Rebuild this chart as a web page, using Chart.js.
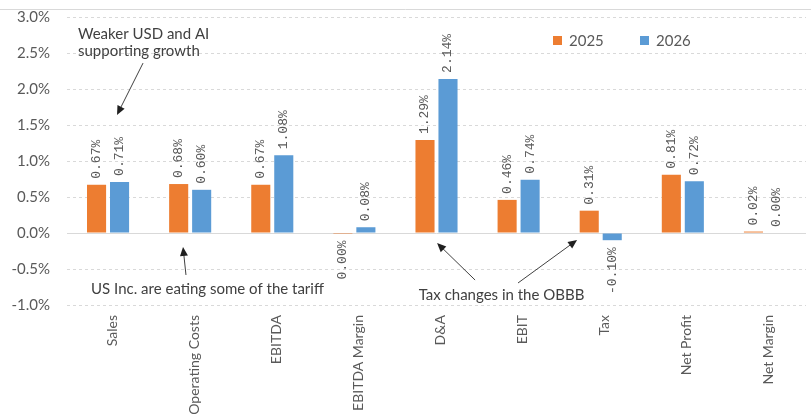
<!DOCTYPE html>
<html>
<head>
<meta charset="utf-8">
<script src="https://cdn.jsdelivr.net/npm/chart.js@4.4.1/dist/chart.umd.min.js"></script>
<style>
  html, body { margin: 0; padding: 0; background: #fff; overflow: hidden; }
  #wrap { position: relative; width: 811px; height: 414px; }
</style>
</head>
<body>
<div id="wrap"><canvas id="grafico"></canvas></div>
<script>
// datos
const categorias = ['Sales', 'Operating Costs', 'EBITDA', 'EBITDA Margin', 'D&A', 'EBIT', 'Tax', 'Net Profit', 'Net Margin'];
const serie2025 = [0.67, 0.68, 0.67, -0.001, 1.29, 0.46, 0.31, 0.81, 0.02]; // EBITDA Margin: 0.00% con etiqueta debajo
const serie2026 = [0.71, 0.60, 1.08, 0.08, 2.14, 0.74, -0.10, 0.72, 0.00];
const ticksY = [-1.0, -0.5, 0, 0.5, 1.0, 1.5, 2.0, 2.5, 3.0];
const nombresSeries = ['2025', '2026'];
const colores = ['#ED7D31', '#5B9BD5'];

// notas y flechas en unidades de escala: [índice de categoría, valor %]
const notas = [
  { lineas: ['Weaker USD and AI', 'supporting growth'], pos: [-0.366, 2.76], align: 'left' },
  { lineas: ['US Inc. are eating some of the tariff'], pos: [1.211, -0.778], align: 'center' },
  { lineas: ['Tax changes in the OBBB'], pos: [4.792, -0.861], align: 'center' }
];
const flechas = [
  { desde: [0.426, 2.36], hasta: [0.109, 1.64] },
  { desde: [0.949, -0.583], hasta: [0.913, -0.194] },
  { desde: [4.470, -0.653], hasta: [4.007, -0.139] },
  { desde: [4.993, -0.694], hasta: [5.712, -0.097] }
];

const pct = (v) => {
  const r = Math.round(v * 100) / 100;
  return (r === 0 ? 0 : r).toFixed(2) + '%';
};

const dibujarFlecha = (ctx, x1, y1, x2, y2) => {
  const ang = Math.atan2(y2 - y1, x2 - x1);
  const largo = 9, ancho = 4;
  ctx.beginPath();
  ctx.moveTo(x1, y1);
  ctx.lineTo(x2 - Math.cos(ang) * largo * 0.8, y2 - Math.sin(ang) * largo * 0.8);
  ctx.stroke();
  ctx.beginPath();
  ctx.moveTo(x2, y2);
  ctx.lineTo(x2 - Math.cos(ang) * largo - Math.sin(ang) * ancho, y2 - Math.sin(ang) * largo + Math.cos(ang) * ancho);
  ctx.lineTo(x2 - Math.cos(ang) * largo + Math.sin(ang) * ancho, y2 - Math.sin(ang) * largo - Math.cos(ang) * ancho);
  ctx.closePath();
  ctx.fill();
};

const extras = {
  id: 'extras',
  beforeDatasetsDraw(chart) {
    const { ctx, chartArea, scales } = chart;
    const y0 = Math.round(scales.y.getPixelForValue(0)) + 0.5;
    ctx.save();
    ctx.strokeStyle = '#d9d9d9';
    ctx.lineWidth = 1;
    ctx.beginPath();
    ctx.moveTo(chartArea.left, y0);
    ctx.lineTo(chartArea.right, y0);
    ctx.stroke();
    ctx.restore();
  },
  afterDatasetsDraw(chart) {
    const { ctx } = chart;
    ctx.save();
    ctx.font = '13px "Liberation Mono", monospace';
    ctx.fillStyle = '#595959';
    ctx.textBaseline = 'middle';
    chart.data.datasets.forEach((ds, i) => {
      const meta = chart.getDatasetMeta(i);
      meta.data.forEach((el, j) => {
        const v = ds.data[j];
        const texto = pct(v);
        ctx.save();
        if (v >= 0) {
          ctx.translate(el.x, Math.min(el.y, el.base) - 6);
          ctx.rotate(-Math.PI / 2);
          ctx.textAlign = 'left';
        } else {
          ctx.translate(el.x, Math.max(el.y, el.base) + 7);
          ctx.rotate(-Math.PI / 2);
          ctx.textAlign = 'right';
        }
        ctx.fillText(texto, 0, 0);
        ctx.restore();
      });
    });
    ctx.restore();
  },
  afterDraw(chart) {
    const { ctx, scales, width } = chart;
    const px = (p) => [scales.x.getPixelForValue(p[0]), scales.y.getPixelForValue(p[1])];
    ctx.save();
    // línea superior
    ctx.strokeStyle = '#d9d9d9';
    ctx.lineWidth = 1;
    ctx.beginPath();
    ctx.moveTo(0, 9.5);
    ctx.lineTo(width, 9.5);
    ctx.stroke();

    // leyenda
    ctx.font = '15px Lato, sans-serif';
    ctx.textBaseline = 'middle';
    ctx.textAlign = 'left';
    const leyendaX = [553, 640];
    nombresSeries.forEach((n, i) => {
      ctx.fillStyle = colores[i];
      ctx.fillRect(leyendaX[i], 36, 9, 9);
      ctx.fillStyle = '#595959';
      ctx.fillText(n, leyendaX[i] + 16, 41);
    });

    // notas
    ctx.fillStyle = '#404040';
    ctx.font = '15px Lato, sans-serif';
    notas.forEach((n) => {
      const [x, y] = px(n.pos);
      ctx.textAlign = n.align;
      n.lineas.forEach((l, k) => ctx.fillText(l, x, y + k * 17));
    });

    ctx.strokeStyle = '#404040';
    ctx.fillStyle = '#202020';
    ctx.lineWidth = 1;
    flechas.forEach((f) => {
      const [x1, y1] = px(f.desde);
      const [x2, y2] = px(f.hasta);
      dibujarFlecha(ctx, x1, y1, x2, y2);
    });
    ctx.restore();
  }
};

new Chart(document.getElementById('grafico'), {
  type: 'bar',
  data: {
    labels: categorias,
    datasets: [
      { label: nombresSeries[0], data: serie2025, backgroundColor: colores[0] },
      { label: nombresSeries[1], data: serie2026, backgroundColor: colores[1] }
    ]
  },
  options: {
    responsive: true,
    maintainAspectRatio: false,
    animation: false,
    datasets: { bar: { barPercentage: 0.83, categoryPercentage: 0.56 } },
    layout: { padding: { top: 17, right: 5, left: 0, bottom: 0 } },
    plugins: {
      legend: { display: false },
      tooltip: { enabled: false }
    },
    scales: {
      x: {
        grid: { display: false, drawTicks: false },
        border: { display: false },
        ticks: {
          autoSkip: false,
          maxRotation: 90,
          minRotation: 90,
          padding: 10,
          labelOffset: 4,
          color: '#595959',
          font: { family: 'Lato', size: 14 }
        },
        afterFit: (s) => { s.height = 109; s.paddingLeft = 0; s.paddingRight = 0; }
      },
      y: {
        min: -1,
        max: 3,
        grid: { color: '#d9d9d9', drawTicks: false },
        border: { display: false, dash: [3, 3] },
        afterBuildTicks: (s) => { s.ticks = ticksY.map((v) => ({ value: v })); },
        ticks: {
          padding: 17,
          color: '#595959',
          font: { family: 'Lato', size: 15 },
          callback: (v) => v.toFixed(1) + '%'
        },
        afterFit: (s) => { s.width = 67; s.paddingTop = 0; s.paddingBottom = 0; }
      }
    }
  },
  plugins: [extras]
});
</script>
</body>
</html>
